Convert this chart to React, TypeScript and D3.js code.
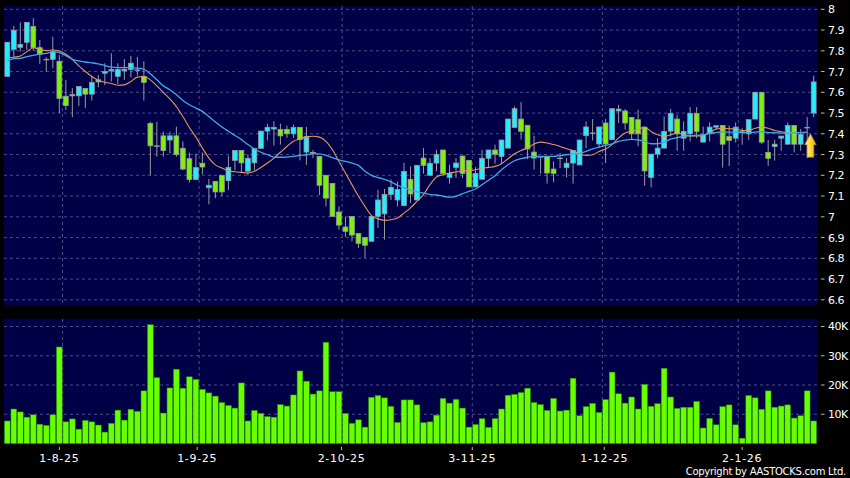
import React from "react";
import * as d3 from "d3";

const W = 850;
const H = 478;

// prices, one entry per trading day
const opens = [7.677,7.807,7.817,7.841,7.917,7.815,7.759,7.759,7.749,7.581,7.583,7.583,7.618,7.591,7.65,7.692,7.703,7.677,7.703,7.71,7.705,7.677,7.45,7.342,7.39,7.37,7.39,7.33,7.28,7.18,7.258,7.14,7.171,7.2,7.174,7.272,7.32,7.22,7.26,7.33,7.413,7.423,7.421,7.421,7.40,7.431,7.312,7.31,7.291,7.2,7.161,7.023,6.951,7.002,6.92,6.90,6.882,7.002,7.014,7.108,7.081,7.054,7.18,7.081,7.283,7.2,7.259,7.322,7.19,7.238,7.293,7.272,7.144,7.181,7.282,7.322,7.291,7.331,7.431,7.471,7.441,7.312,7.29,7.291,7.23,7.283,7.238,7.259,7.25,7.391,7.404,7.351,7.452,7.372,7.51,7.51,7.479,7.468,7.432,7.19,7.302,7.331,7.413,7.471,7.379,7.4,7.498,7.36,7.4,7.432,7.44,7.387,7.379,7.41,7.4,7.471,7.6,7.31,7.339,7.379,7.35,7.44,7.35,7.431,7.5];
const closes = [7.841,7.899,7.831,7.937,7.815,7.783,7.759,7.795,7.571,7.536,7.589,7.628,7.591,7.647,7.66,7.70,7.71,7.71,7.71,7.74,7.708,7.648,7.342,7.342,7.32,7.39,7.30,7.23,7.18,7.237,7.24,7.152,7.12,7.12,7.238,7.32,7.26,7.282,7.33,7.413,7.431,7.431,7.39,7.40,7.431,7.372,7.388,7.31,7.152,7.09,7.002,6.96,6.93,6.912,6.872,6.863,7.002,7.081,7.108,7.142,7.132,7.219,7.11,7.248,7.248,7.258,7.301,7.209,7.209,7.259,7.209,7.144,7.209,7.282,7.322,7.301,7.37,7.471,7.521,7.412,7.327,7.283,7.29,7.211,7.209,7.283,7.258,7.32,7.37,7.433,7.404,7.433,7.351,7.521,7.519,7.452,7.4,7.4,7.221,7.302,7.331,7.411,7.498,7.4,7.411,7.498,7.411,7.395,7.432,7.439,7.35,7.368,7.432,7.41,7.468,7.6,7.36,7.282,7.35,7.389,7.44,7.35,7.398,7.431,7.65];
const highs = [7.841,7.92,7.937,7.937,7.957,7.852,7.769,7.868,7.78,7.66,7.62,7.628,7.618,7.676,7.684,7.74,7.788,7.74,7.76,7.775,7.77,7.75,7.458,7.458,7.41,7.41,7.435,7.363,7.31,7.305,7.31,7.183,7.171,7.2,7.295,7.32,7.32,7.3,7.33,7.413,7.449,7.461,7.449,7.439,7.444,7.431,7.433,7.322,7.291,7.2,7.161,7.05,7.0,7.002,6.92,6.90,7.002,7.13,7.134,7.18,7.17,7.26,7.243,7.248,7.331,7.283,7.323,7.322,7.251,7.283,7.293,7.272,7.24,7.323,7.322,7.348,7.37,7.471,7.532,7.553,7.441,7.391,7.283,7.291,7.267,7.307,7.283,7.32,7.37,7.46,7.471,7.433,7.471,7.521,7.54,7.519,7.479,7.516,7.432,7.302,7.379,7.484,7.519,7.492,7.46,7.529,7.529,7.435,7.455,7.439,7.44,7.44,7.455,7.427,7.468,7.6,7.6,7.371,7.371,7.389,7.455,7.44,7.423,7.48,7.68];
const lows = [7.677,7.77,7.796,7.804,7.80,7.737,7.70,7.716,7.5,7.515,7.48,7.534,7.525,7.56,7.624,7.635,7.652,7.64,7.66,7.672,7.68,7.56,7.2,7.29,7.29,7.305,7.29,7.225,7.165,7.18,7.205,7.06,7.09,7.1,7.13,7.224,7.214,7.2,7.224,7.33,7.368,7.343,7.348,7.38,7.38,7.272,7.25,7.283,7.105,7.05,7.002,6.938,6.903,6.882,6.85,6.802,6.882,6.946,6.89,7.08,7.05,7.054,7.066,7.081,7.208,7.2,7.219,7.209,7.16,7.187,7.187,7.144,7.144,7.181,7.235,7.256,7.259,7.331,7.431,7.372,7.278,7.227,7.208,7.16,7.166,7.235,7.19,7.16,7.25,7.331,7.368,7.331,7.259,7.372,7.452,7.42,7.372,7.34,7.15,7.142,7.282,7.331,7.387,7.318,7.318,7.363,7.379,7.36,7.363,7.42,7.237,7.245,7.358,7.347,7.371,7.471,7.35,7.245,7.271,7.318,7.35,7.31,7.318,7.282,7.48];

// moving averages, one entry per day up to the last but one
const maShort = [7.767,7.769,7.775,7.796,7.815,7.807,7.801,7.804,7.799,7.783,7.759,7.727,7.7,7.676,7.658,7.648,7.642,7.634,7.636,7.652,7.673,7.676,7.66,7.631,7.599,7.568,7.531,7.483,7.43,7.384,7.331,7.283,7.25,7.235,7.222,7.217,7.214,7.211,7.219,7.238,7.259,7.283,7.311,7.339,7.364,7.375,7.384,7.388,7.384,7.364,7.323,7.267,7.211,7.155,7.099,7.05,7.006,6.99,6.983,6.986,6.994,7.018,7.043,7.075,7.107,7.155,7.192,7.203,7.211,7.216,7.222,7.222,7.227,7.234,7.238,7.243,7.256,7.28,7.304,7.32,7.331,7.351,7.36,7.356,7.348,7.339,7.328,7.319,7.303,7.296,7.299,7.315,7.327,7.348,7.38,7.404,7.412,7.42,7.432,7.411,7.395,7.387,7.395,7.403,7.398,7.39,7.39,7.39,7.406,7.423,7.427,7.424,7.423,7.416,7.416,7.427,7.432,7.427,7.416,7.41,7.406,7.406,7.406,7.406];
const maLong = [7.751,7.762,7.764,7.772,7.778,7.785,7.788,7.796,7.791,7.777,7.759,7.751,7.746,7.742,7.737,7.729,7.721,7.719,7.719,7.719,7.717,7.711,7.689,7.66,7.631,7.612,7.588,7.561,7.54,7.524,7.508,7.483,7.457,7.433,7.412,7.392,7.372,7.348,7.327,7.311,7.299,7.288,7.287,7.288,7.291,7.296,7.299,7.304,7.303,7.296,7.285,7.274,7.267,7.259,7.248,7.219,7.2,7.189,7.18,7.168,7.152,7.139,7.128,7.12,7.114,7.107,7.105,7.099,7.095,7.099,7.112,7.123,7.134,7.155,7.176,7.198,7.227,7.251,7.27,7.28,7.287,7.291,7.291,7.291,7.291,7.295,7.299,7.303,7.306,7.315,7.327,7.336,7.344,7.352,7.364,7.37,7.373,7.371,7.363,7.352,7.352,7.36,7.374,7.382,7.387,7.39,7.392,7.395,7.403,7.406,7.41,7.408,7.408,7.406,7.406,7.408,7.41,7.406,7.405,7.403,7.403,7.405,7.406,7.408];

// volume in thousands
const volumes = [7.7,11.8,10.8,9,9.8,6.6,6.2,9.8,33,7.4,8.4,4.9,7.9,7.4,6.3,3.9,6.9,11.4,8,11.7,11,18,40.6,22.5,10.4,19,25.4,18.9,22.8,21.9,18.5,17.3,16.2,14,13,12.1,20.7,7.7,11.3,10.3,9.2,9,13.3,12.8,16.6,24.8,21.3,16.9,18,34.6,17.7,17.7,10.3,6.9,8.1,5.6,15.8,16.4,15.6,12.7,7.2,14.9,14.9,13.2,7.1,7.4,9.7,15.4,13.8,15.1,12.1,5.6,6.5,8.5,5.5,8.5,11.8,16.5,16.8,17.4,18.9,14,13.3,11.3,15.4,11.1,11.4,22.3,9.5,12.6,13.7,10.6,15,24.4,17,13.8,15.9,11.8,20.2,12.7,13.6,25.7,15.9,12,12.4,12.4,14.4,5.3,8.6,6.4,12.6,13.2,6.4,1.8,16.4,15.6,11.7,18,12.4,12.8,13.2,8.7,9.5,18,7.7];

const priceTicks = [8,7.9,7.8,7.7,7.6,7.5,7.4,7.3,7.2,7.1,7,6.9,6.8,6.7,6.6];
const volumeTicks = [10,20,30,40];
const dateLabels = ["1-8-25","1-9-25","2-10-25","3-11-25","1-12-25","2-1-26"];
const dateTickDays = [8,29.2,51.4,71.5,91.8,113];
const dateGridDays = [8.5,29.5,51.5,71.5,91.5,112.4];

const panelBg = "#000046";
const gridColor = "#4c4c8a";
const wickColor = "#9a9aa2";
const upColor = "#26ecfb";
const downColor = "#7df00c";
const volColor = "#68ff00";
const font = "'DejaVu Sans', sans-serif";

const left = 4;
const right = 817.5;

export default function App() {
  const x = d3.scaleLinear().domain([0, volumes.length - 1]).range([7.3, 813.7]);
  const y = d3.scaleLinear().domain([6.6, 8]).range([299.8, 9.3]);
  const yVol = d3.scaleLinear().domain([0, 40]).range([443.5, 326.5]);

  const lineFor = d3
    .line<number>()
    .x((_, i) => x(i))
    .y((d) => y(d))
    .curve(d3.curveMonotoneX);

  const arrowX = x(123.5);
  const arrowY = y(7.4);

  return (
    <svg
      width={W}
      height={H}
      style={{ position: "absolute", left: 0, top: 0, display: "block", background: "#000" }}
      fontFamily={font}
    >
      <defs>
        <linearGradient id="arrowFill" x1="0" y1="0" x2="1" y2="0">
          <stop offset="0" stopColor="#fff0a0" />
          <stop offset="0.5" stopColor="#ffd838" />
          <stop offset="1" stopColor="#eea616" />
        </linearGradient>
      </defs>

      {/* panels */}
      <rect x={left} y={6} width={right - left} height={299} fill={panelBg} />
      <rect x={left} y={318.5} width={right - left} height={125} fill={panelBg} />

      {/* price grid */}
      {priceTicks.map((t) => (
        <line key={t} x1={left} x2={right} y1={y(t)} y2={y(t)} stroke={gridColor} strokeDasharray="3 3" />
      ))}
      {dateGridDays.map((d) => (
        <line key={d} x1={x(d)} x2={x(d)} y1={6} y2={305} stroke={gridColor} strokeDasharray="3 3" />
      ))}

      {/* volume grid */}
      {volumeTicks.map((t) => (
        <line key={t} x1={left} x2={right} y1={yVol(t)} y2={yVol(t)} stroke={gridColor} strokeDasharray="3 3" />
      ))}
      {dateGridDays.map((d) => (
        <line key={d} x1={x(d)} x2={x(d)} y1={319} y2={443} stroke={gridColor} strokeDasharray="3 3" />
      ))}

      {/* candles */}
      {opens.map((o, i) => {
        const c = closes[i];
        const top = y(Math.max(o, c));
        const bottom = y(Math.min(o, c));
        return (
          <g key={i}>
            <line x1={x(i)} x2={x(i)} y1={y(highs[i])} y2={y(lows[i])} stroke={wickColor} strokeWidth={1} />
            <rect
              x={x(i) - 2.4}
              y={top}
              width={4.8}
              height={Math.max(bottom - top, 0.6)}
              fill={c >= o ? upColor : downColor}
              stroke={wickColor}
              strokeWidth={0.8}
            />
          </g>
        );
      })}

      {/* moving averages */}
      <path d={lineFor(maShort) ?? ""} fill="none" stroke="#e2975c" strokeWidth={1.1} />
      <path d={lineFor(maLong) ?? ""} fill="none" stroke="#3fa9e8" strokeWidth={1.3} />

      {/* arrow marker */}
      <path
        transform={`translate(${arrowX},${arrowY})`}
        d="M0,0 L5.8,11 L3.4,11 L3.4,23.5 L-3.4,23.5 L-3.4,11 L-5.8,11 Z"
        fill="url(#arrowFill)"
        stroke="#a8801c"
        strokeWidth={0.6}
      />

      {/* volume bars */}
      {volumes.map((v, i) => (
        <rect
          key={i}
          x={x(i) - 2.85}
          y={yVol(v)}
          width={5.7}
          height={yVol(0) - yVol(v)}
          fill={volColor}
          stroke="#2c8c10"
          strokeWidth={0.5}
        />
      ))}

      {/* right axes */}
      {priceTicks.map((t) => (
        <g key={t} transform={`translate(0,${y(t)})`}>
          <line x1={821} x2={824.5} stroke="#bbb" />
          <text x={828} dy="0.36em" fontSize={11} letterSpacing={-0.5} fill="#fff">
            {t}
          </text>
        </g>
      ))}
      {volumeTicks.map((t) => (
        <g key={t} transform={`translate(0,${yVol(t)})`}>
          <line x1={821} x2={824.5} stroke="#bbb" />
          <text x={828} dy="0.36em" fontSize={11} letterSpacing={-0.5} fill="#fff">
            {t}K
          </text>
        </g>
      ))}

      {/* date axis */}
      {dateLabels.map((label, i) => (
        <g key={label} transform={`translate(${x(dateTickDays[i])},0)`}>
          <line y1={447} y2={450} stroke="#bbb" />
          <text y={462} textAnchor="middle" fontSize={11} letterSpacing={0.7} fill="#fff">
            {label}
          </text>
        </g>
      ))}

      <text x={846} y={475} textAnchor="end" fontSize={10} letterSpacing={-0.27} fill="#fff">
        Copyright by AASTOCKS.com Ltd.
      </text>
    </svg>
  );
}
